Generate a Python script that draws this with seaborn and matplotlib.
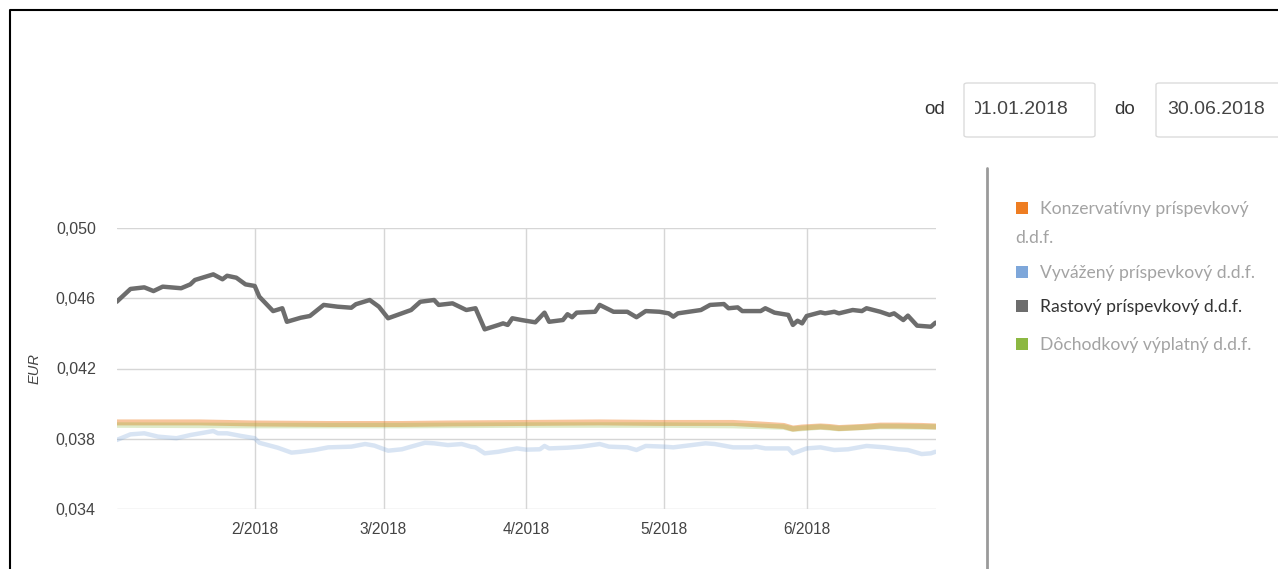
import numpy as np
import pandas as pd
import matplotlib
matplotlib.use("Agg")
import matplotlib.pyplot as plt
from matplotlib.patches import FancyBboxPatch, Rectangle
from matplotlib.lines import Line2D
from matplotlib.ticker import FuncFormatter
import seaborn as sns

# ---------------- data (day offsets from 2018-01-01, values in EUR) ----------------
rast_days = [1, 4, 7, 9, 11, 15, 17, 18, 22, 24, 25, 27, 29, 31, 32, 35, 37, 38, 41, 43,
             46, 49, 52, 53, 56, 57, 58, 60, 65, 67, 70, 71, 74, 77, 79, 81, 84, 85, 86, 87,
             89, 92, 94, 95, 98, 99, 100, 101, 105, 106, 109, 112, 114, 116, 119, 121, 122, 123, 128, 130,
             133, 134, 136, 137, 141, 142, 144, 147, 148, 149, 150, 151, 154, 155, 157, 158, 161, 163, 164, 167,
             169, 170, 172, 173, 175, 178, 179]
rast_vals = [0.04580, 0.04653, 0.04662, 0.04641, 0.04666, 0.04657, 0.04679, 0.04704, 0.04736, 0.04708,
             0.04728, 0.04717, 0.04679, 0.04670, 0.04609, 0.04527, 0.04543, 0.04466, 0.04489, 0.04499,
             0.04562, 0.04552, 0.04546, 0.04566, 0.04590, 0.04571, 0.04552, 0.04486, 0.04533, 0.04580,
             0.04590, 0.04562, 0.04571, 0.04533, 0.04543, 0.04423, 0.04448, 0.04457, 0.04448, 0.04486,
             0.04476, 0.04463, 0.04518, 0.04466, 0.04476, 0.04509, 0.04492, 0.04518, 0.04523, 0.04562,
             0.04523, 0.04523, 0.04492, 0.04527, 0.04523, 0.04514, 0.04495, 0.04514, 0.04533, 0.04562,
             0.04567, 0.04543, 0.04548, 0.04527, 0.04527, 0.04543, 0.04518, 0.04505, 0.04448, 0.04472,
             0.04457, 0.04499, 0.04520, 0.04514, 0.04523, 0.04514, 0.04533, 0.04527, 0.04543, 0.04523,
             0.04505, 0.04514, 0.04476, 0.04501, 0.04444, 0.04438, 0.04461]

vyv_days = [1, 4, 7, 10, 14, 17, 22, 23, 25, 28, 31, 32, 36, 39, 41, 44, 47, 52, 55, 57,
            60, 63, 65, 68, 70, 73, 76, 78, 79, 81, 84, 86, 88, 90, 93, 94, 95, 99, 102, 106,
            108, 112, 114, 116, 120, 122, 126, 129, 131, 135, 139, 140, 142, 147, 148, 149, 151, 154, 157, 160,
            164, 168, 171, 173, 176, 178, 179]
vyv_vals = [0.03793, 0.03825, 0.03831, 0.03812, 0.03803, 0.03821, 0.03844, 0.03831, 0.03831, 0.03816,
            0.03803, 0.03777, 0.03749, 0.03721, 0.03726, 0.03736, 0.03751, 0.03755, 0.03770, 0.03761,
            0.03732, 0.03740, 0.03755, 0.03777, 0.03774, 0.03764, 0.03770, 0.03755, 0.03751, 0.03717,
            0.03726, 0.03736, 0.03745, 0.03738, 0.03740, 0.03759, 0.03745, 0.03749, 0.03755, 0.03770,
            0.03755, 0.03751, 0.03736, 0.03759, 0.03755, 0.03751, 0.03764, 0.03774, 0.03770, 0.03751,
            0.03751, 0.03755, 0.03745, 0.03745, 0.03717, 0.03726, 0.03745, 0.03751, 0.03736, 0.03740,
            0.03759, 0.03751, 0.03740, 0.03736, 0.03713, 0.03717, 0.03726]

konz_days = [1, 19, 31, 47, 63, 73, 90, 106, 119, 135, 141, 146, 148, 150, 154, 156, 158, 163, 167, 171, 176, 179]
konz_vals = [0.03893, 0.03893, 0.03887, 0.03884, 0.03884, 0.03887, 0.03890, 0.03893, 0.03890, 0.03890,
             0.03881, 0.03873, 0.03858, 0.03864, 0.03870, 0.03867, 0.03861, 0.03867, 0.03875, 0.03875,
             0.03873, 0.03870]

doch_days = [1, 31, 63, 90, 119, 135, 146, 148, 154, 158, 167, 179]
doch_vals = [0.03878, 0.03875, 0.03875, 0.03878, 0.03878, 0.03875, 0.03867, 0.03855, 0.03867, 0.03858,
             0.03870, 0.03867]

series_names = ["Konzervatívny príspevkový d.d.f.", "Vyvážený príspevkový d.d.f.",
                "Rastový príspevkový d.d.f.", "Dôchodkový výplatný d.d.f."]
series_colors = ["#ee7d22", "#7ea7da", "#6d6d6d", "#8cb842"]
y_ticks = [0.034, 0.038, 0.042, 0.046, 0.050]
month_ticks = ["2018-02-01", "2018-03-01", "2018-04-01", "2018-05-01", "2018-06-01"]
date_from = "01.01.2018"
date_to = "30.06.2018"

# ---------------- figure ----------------
W, H = 1278, 569
sns.set_theme(style="white")
plt.rcParams['font.family'] = ['Liberation Sans', 'DejaVu Sans']

base = pd.Timestamp("2018-01-01")
def to_dates(days):
    return base + pd.to_timedelta(days, unit="D")

fig = plt.figure(figsize=(W / 100, H / 100), dpi=100)
fig.patch.set_facecolor("white")

def fx(x):
    return x / W

def fy(y):
    return 1 - y / H

ax = fig.add_axes([fx(116.7), fy(509), (935.5 - 116.7) / W, 281 / H])
ax.set_facecolor("white")

data = [
    (konz_days, konz_vals, 0, 0.45, 4.3, 2),
    (vyv_days, vyv_vals, 1, 0.30, 3.2, 2),
    (rast_days, rast_vals, 2, 1.0, 3.2, 4),
    (doch_days, doch_vals, 3, 0.28, 4.0, 3),
]
for days, vals, idx, alpha, lw, z in data:
    df = pd.DataFrame({"date": to_dates(days), "value": vals})
    sns.lineplot(data=df, x="date", y="value", ax=ax, color=series_colors[idx],
                 alpha=alpha, linewidth=lw, zorder=z, solid_joinstyle="round",
                 solid_capstyle="round")

ax.set_xlim(base + pd.Timedelta(days=1), base + pd.Timedelta(days=179))
ax.set_ylim(y_ticks[0], y_ticks[-1])
ax.set_yticks(y_ticks)
ax.yaxis.set_major_formatter(FuncFormatter(lambda v, p: f"{v:.3f}".replace(".", ",")))
ax.set_xticks(pd.to_datetime(month_ticks))
ax.set_xticklabels([f"{pd.Timestamp(m).month}/{pd.Timestamp(m).year}" for m in month_ticks])
ax.grid(True, axis="both", color="#d6d6d6", linewidth=1.0)
ax.set_axisbelow(True)
for s in ax.spines.values():
    s.set_visible(False)
ax.tick_params(axis="both", length=0, labelcolor="#444444")
ax.tick_params(axis="y", pad=15, labelsize=11.5)
ax.tick_params(axis="x", pad=9, labelsize=11.2)
ax.set_xlabel("")
ax.set_ylabel("EUR", fontsize=10.5, style="italic", color="#444444", labelpad=10)

# ---------------- page decorations ----------------
fig.add_artist(Line2D([fx(10), fx(10), fx(W)], [fy(H), fy(10), fy(10)], color="black",
                      linewidth=1.5, transform=fig.transFigure))
fig.add_artist(Line2D([fx(987), fx(987)], [fy(168), fy(H)], color="#9a9a9a",
                      linewidth=2, transform=fig.transFigure))

# date inputs
fig.text(fx(935), fy(110), "od", ha="center", va="center", fontsize=13.5, color="#333333")
fig.text(fx(1125), fy(110), "do", ha="center", va="center", fontsize=13.5, color="#333333")
box1 = FancyBboxPatch((fx(964), fy(137)), 131 / W, 54 / H, boxstyle="round,pad=0,rounding_size=0.003",
                      transform=fig.transFigure, facecolor="white", edgecolor="#dcdcdc", linewidth=1)
box2 = FancyBboxPatch((fx(1156), fy(137)), 134 / W, 54 / H, boxstyle="round,pad=0,rounding_size=0.003",
                      transform=fig.transFigure, facecolor="white", edgecolor="#dcdcdc", linewidth=1)
fig.add_artist(box1)
fig.add_artist(box2)
clip1 = Rectangle((fx(975), fy(137)), 119 / W, 54 / H, transform=fig.transFigure, visible=False)
fig.add_artist(clip1)
t1 = fig.text(fx(970), fy(110), date_from, ha="left", va="center", fontsize=14, color="#444444")
t1.set_clip_path(clip1)
fig.text(fx(1167), fy(110), date_to, ha="left", va="center", fontsize=14, color="#444444")

# legend
leg_font = ['Lato', 'DejaVu Sans']
leg_items = [
    (208, ["Konzervatívny príspevkový", "d.d.f."], "#a3a3a3"),
    (272, [series_names[1]], "#a3a3a3"),
    (306, [series_names[2]], "#333333"),
    (344, [series_names[3]], "#a3a3a3"),
]
for i, (yc, lines, tc) in enumerate(leg_items):
    fig.add_artist(Rectangle((fx(1016), fy(yc + 6)), 12 / W, 12 / H, transform=fig.transFigure,
                             facecolor=series_colors[i], edgecolor="none"))
    fig.text(fx(1040), fy(yc + 1), lines[0], ha="left", va="center", fontsize=12.6, color=tc, family=leg_font)
    if len(lines) > 1:
        fig.text(fx(1015), fy(yc + 30), lines[1], ha="left", va="center", fontsize=12.6, color=tc, family=leg_font)

fig.savefig("out.png", dpi=100, facecolor="white")
